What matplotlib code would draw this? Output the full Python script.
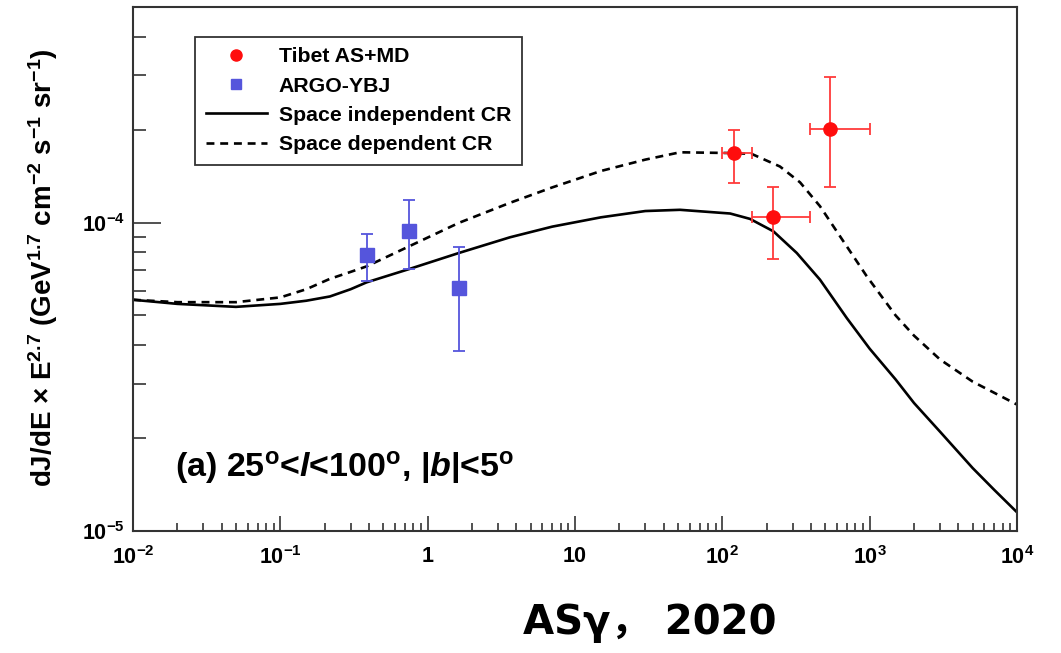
import matplotlib
matplotlib.use("Agg")
import matplotlib.pyplot as plt
from matplotlib.lines import Line2D
from matplotlib.ticker import FixedLocator, FixedFormatter, LogLocator, NullFormatter

# ---- data -------------------------------------------------------------
# model curves: E (GeV) and E^2.7 dJ/dE
indep_E = [0.01, 0.02, 0.05, 0.1, 0.15, 0.217, 0.3, 0.385, 0.75, 1.63, 3.62,
           7, 15, 30, 51.6, 113, 154, 222, 320, 460, 700, 1000, 1500, 2000,
           3000, 5000, 7000, 10000]
indep_flux = [5.62e-5, 5.45e-5, 5.33e-5, 5.45e-5, 5.58e-5, 5.76e-5, 6.08e-5,
              6.40e-5, 7.07e-5, 7.97e-5, 8.96e-5, 9.7e-5, 1.04e-4, 1.09e-4,
              1.10e-4, 1.07e-4, 1.028e-4, 9.37e-5, 7.97e-5, 6.53e-5, 4.9e-5,
              3.9e-5, 3.1e-5, 2.6e-5, 2.1e-5, 1.6e-5, 1.36e-5, 1.15e-5]

dep_E = [0.01, 0.02, 0.05, 0.1, 0.15, 0.217, 0.3, 0.385, 0.75, 1.63, 3.62, 7,
         15, 30, 51.6, 119, 158, 246, 337, 460, 629, 955, 1500, 2000, 3000,
         5000, 10000]
dep_flux = [5.62e-5, 5.52e-5, 5.52e-5, 5.72e-5, 6.08e-5, 6.57e-5, 6.92e-5,
            7.21e-5, 8.38e-5, 9.98e-5, 1.159e-4, 1.30e-4, 1.47e-4, 1.60e-4,
            1.69e-4, 1.68e-4, 1.67e-4, 1.52e-4, 1.35e-4, 1.13e-4, 9.03e-5,
            6.7e-5, 5.0e-5, 4.3e-5, 3.6e-5, 3.05e-5, 2.57e-5]

# Tibet AS+MD measurements
tibet_E = [120.6, 220.8, 535.0]
tibet_E_lo = [100.0, 158.9, 394.0]
tibet_E_hi = [158.0, 393.9, 1009.0]
tibet_flux = [1.675e-4, 1.04e-4, 2.015e-4]
tibet_flux_lo = [1.339e-4, 7.64e-5, 1.30e-4]
tibet_flux_hi = [2.00e-4, 1.309e-4, 2.97e-4]

# ARGO-YBJ measurements
argo_E = [0.385, 0.75, 1.63]
argo_flux = [7.83e-5, 9.42e-5, 6.14e-5]
argo_flux_lo = [6.48e-5, 7.07e-5, 3.82e-5]
argo_flux_hi = [9.19e-5, 1.185e-4, 8.36e-5]

# tick labels
x_ticks = [1e-2, 1e-1, 1, 10, 1e2, 1e3, 1e4]
x_tick_labels = [r"$10^{-2}$", r"$10^{-1}$", "1", "10", r"$10^{2}$",
                 r"$10^{3}$", r"$10^{4}$"]
y_ticks = [1e-5, 1e-4]
y_tick_labels = [r"$10^{-5}$", r"$10^{-4}$"]

legend_labels = ["Tibet AS+MD", "ARGO-YBJ", "Space independent CR",
                 "Space dependent CR"]

# ---- style ------------------------------------------------------------
plt.rcParams["font.family"] = ["Liberation Sans", "Noto Sans CJK SC", "DejaVu Sans"]
plt.rcParams["font.weight"] = "bold"
plt.rcParams["mathtext.fontset"] = "custom"
plt.rcParams["mathtext.rm"] = "Liberation Sans:bold"
plt.rcParams["mathtext.bf"] = "Liberation Sans:bold"
plt.rcParams["mathtext.it"] = "Liberation Sans:italic:bold"
plt.rcParams["mathtext.sf"] = "Liberation Sans:bold"
plt.rcParams["axes.unicode_minus"] = False

AX_COLOR = "#333333"
ARGO_COLOR = "#5555dc"
TIBET_COLOR = "#ff0d0d"
TIBET_BAR = "#ff3a3a"

fig = plt.figure(figsize=(10.61, 6.53), dpi=100)
ax = fig.add_axes([133 / 1061, 1 - 531 / 653, 884 / 1061, 524 / 653])

ax.set_xscale("log")
ax.set_yscale("log")
ax.set_xlim(1e-2, 1e4)
ax.set_ylim(1e-5, 5e-4)

# model curves
ax.plot(indep_E, indep_flux, color="black", lw=1.9)
ax.plot(dep_E, dep_flux, color="black", lw=1.9, dashes=(3.0, 2.2))

# ARGO-YBJ points
argo_err = [[f - lo for f, lo in zip(argo_flux, argo_flux_lo)],
            [hi - f for f, hi in zip(argo_flux, argo_flux_hi)]]
ax.errorbar(argo_E, argo_flux, yerr=argo_err, fmt="s",
            color=ARGO_COLOR, ms=9.5, mec=ARGO_COLOR,
            elinewidth=1.3, capsize=4, capthick=1.3)

# Tibet AS+MD points
tibet_xerr = [[e - lo for e, lo in zip(tibet_E, tibet_E_lo)],
              [hi - e for e, hi in zip(tibet_E, tibet_E_hi)]]
tibet_yerr = [[f - lo for f, lo in zip(tibet_flux, tibet_flux_lo)],
              [hi - f for f, hi in zip(tibet_flux, tibet_flux_hi)]]
ax.errorbar(tibet_E, tibet_flux, xerr=tibet_xerr, yerr=tibet_yerr,
            fmt="o", color=TIBET_COLOR, ecolor=TIBET_BAR, ms=9.5,
            mec=TIBET_COLOR, elinewidth=1.3, capsize=4, capthick=1.3)

# axes frame and ticks
for side in ax.spines.values():
    side.set_linewidth(1.5)
    side.set_color(AX_COLOR)

ax.xaxis.set_major_locator(FixedLocator(x_ticks))
ax.xaxis.set_major_formatter(FixedFormatter(x_tick_labels))
ax.xaxis.set_minor_locator(LogLocator(base=10, subs=range(2, 10), numticks=20))
ax.xaxis.set_minor_formatter(NullFormatter())
ax.yaxis.set_major_locator(FixedLocator(y_ticks))
ax.yaxis.set_major_formatter(FixedFormatter(y_tick_labels))
ax.yaxis.set_minor_locator(LogLocator(base=10, subs=range(2, 10), numticks=20))
ax.yaxis.set_minor_formatter(NullFormatter())

ax.tick_params(axis="both", which="both", direction="in", color=AX_COLOR,
               width=1.2, top=False, right=False, labelsize=15.5)
ax.tick_params(axis="x", which="major", length=11, pad=11)
ax.tick_params(axis="x", which="minor", length=5.8)
ax.tick_params(axis="y", which="major", length=20, pad=6)
ax.tick_params(axis="y", which="minor", length=9.4)

ax.set_ylabel(r"dJ/dE $\times$ E$^{2.7}$ (GeV$^{1.7}$ cm$^{-2}$ s$^{-1}$ sr$^{-1}$)",
              fontsize=20, fontweight="bold")
ax.yaxis.set_label_coords(-0.083, 0.502)

# legend with marker-only handles for the data sets
leg_handles = [
    Line2D([], [], ls="none", marker="o", ms=8, color=TIBET_COLOR),
    Line2D([], [], ls="none", marker="s", ms=7.5, color=ARGO_COLOR),
    Line2D([], [], color="black", lw=1.9),
    Line2D([], [], color="black", lw=1.9, dashes=(3.0, 2.2)),
]
leg = ax.legend(handles=leg_handles, labels=legend_labels,
                loc="upper left", bbox_to_anchor=(0.0701, 0.943),
                borderaxespad=0, fontsize=15.3, frameon=True, fancybox=False,
                edgecolor="black", handlelength=2.9, handletextpad=0.55,
                borderpad=0.5, labelspacing=0.48)
leg.get_frame().set_linewidth(1.3)

# region annotation
ax.text(0.0475, 0.122,
        r"(a) 25$^{\rm o}$<$\mathit{l}$<100$^{\rm o}$, |$\mathit{b}$|<5$^{\rm o}$",
        transform=ax.transAxes, fontsize=24.5, fontweight="bold",
        ha="left", va="center")

# caption below the axes
fig.text(650 / 1061, 1 - 623 / 653, "ASγ， 2020", fontsize=29,
         fontweight="bold", ha="center", va="center",
         family=["DejaVu Sans", "Noto Sans CJK SC"])

fig.savefig("out.png", dpi=100)
